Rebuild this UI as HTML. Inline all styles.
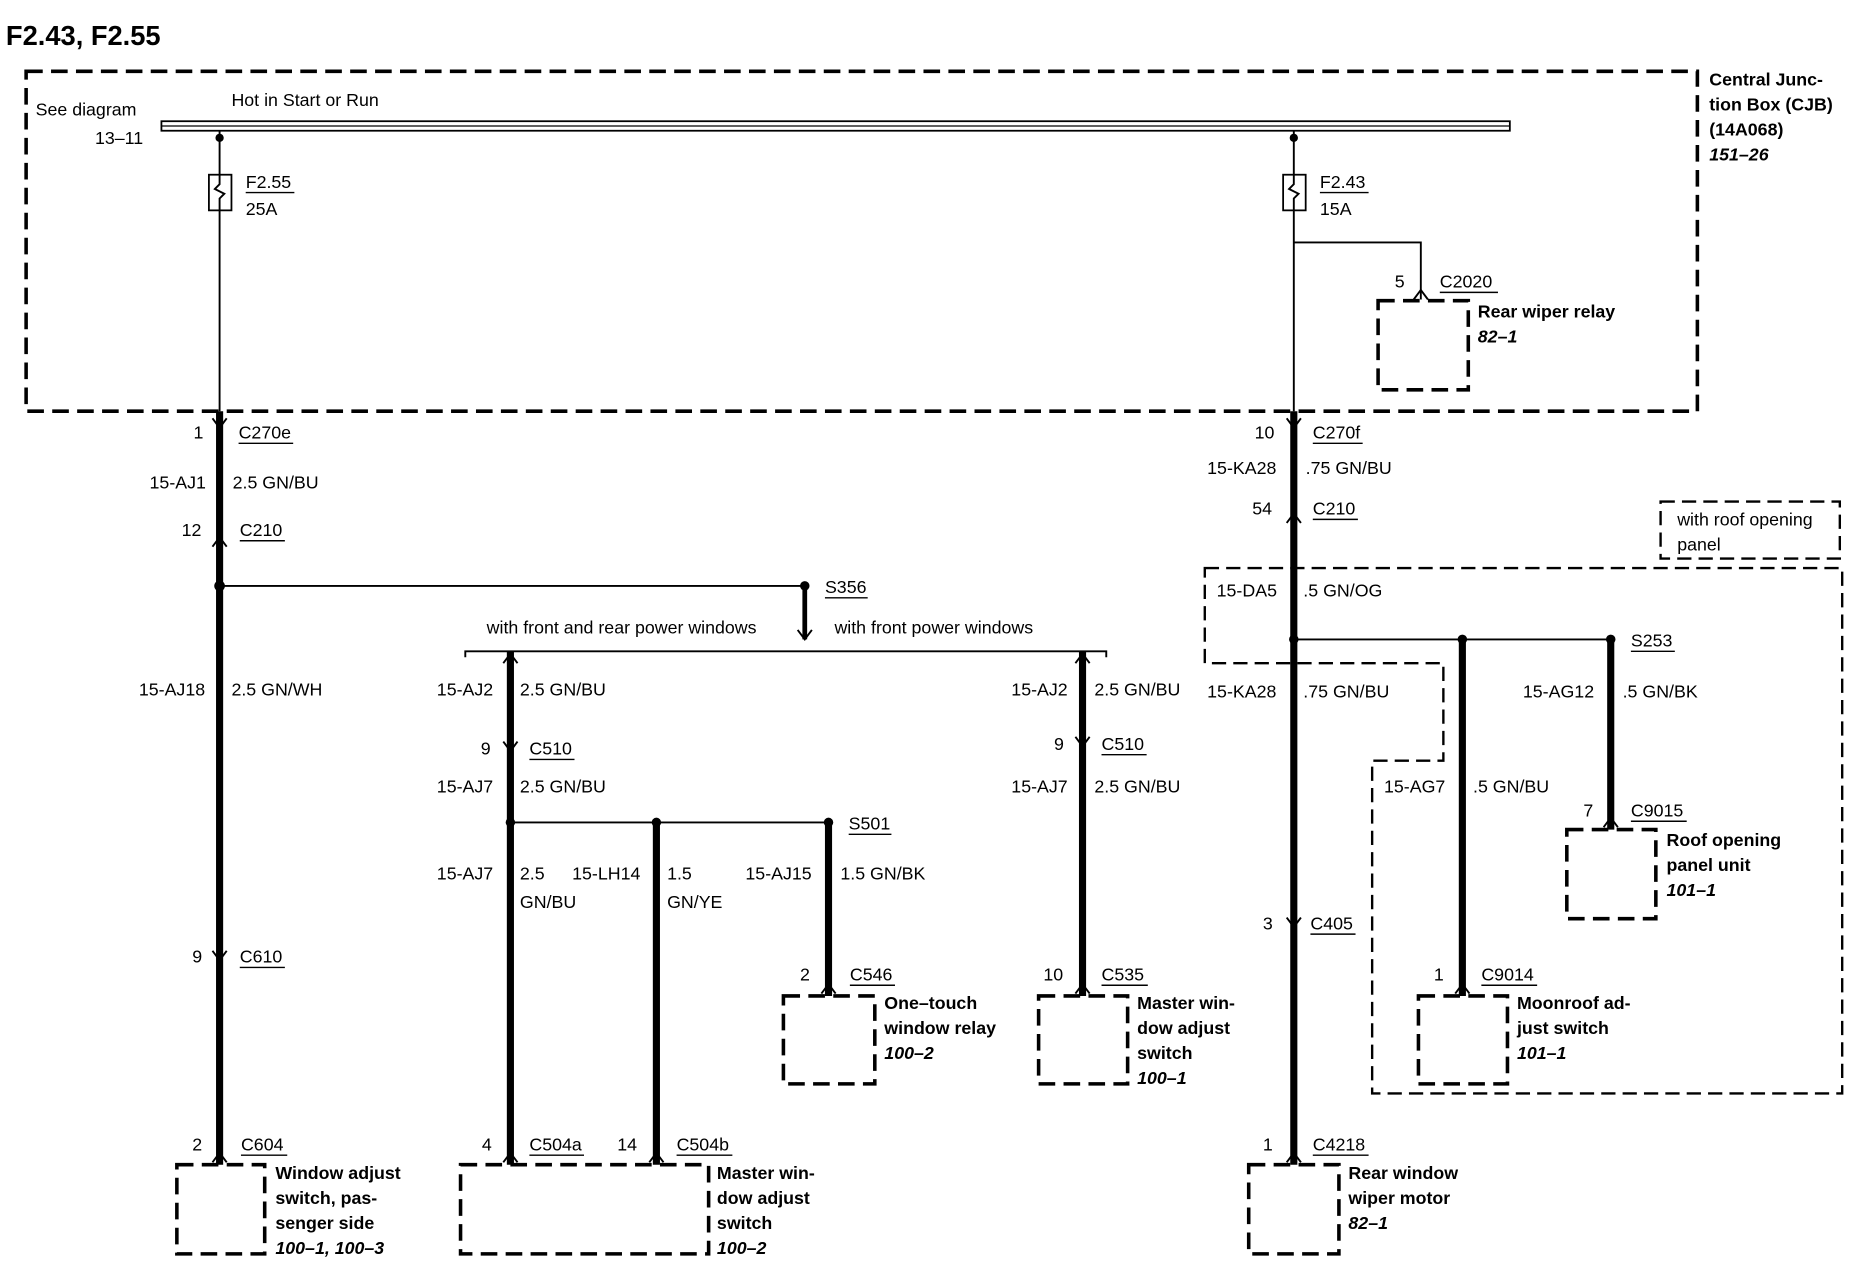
<!DOCTYPE html>
<html><head><meta charset="utf-8"><style>
html,body{margin:0;padding:0;background:#fff;width:1860px;height:1280px;overflow:hidden}
svg{display:block}
text{font-family:"Liberation Sans",Arial,sans-serif;font-size:15px;fill:#000}
.b{font-weight:bold}.i{font-style:italic;font-weight:bold}
.d{fill:none;stroke:#000;stroke-width:3;stroke-dasharray:14,7}
.dt{fill:none;stroke:#000;stroke-width:2;stroke-dasharray:12,6}
.t{stroke:#000;stroke-width:1.6;fill:none}
.k{stroke:#000;stroke-width:6;fill:none}
.u{stroke:#000;stroke-width:1.2}
</style></head><body>
<svg width="1860" height="1280" viewBox="0 0 1567 1077" preserveAspectRatio="none">
<text x="5" y="38" class="b" style="font-size:23px">F2.43, F2.55</text>
<rect x="22" y="60" width="1408" height="286" class="d"/>
<rect x="136" y="102" width="1136" height="8" fill="#fff" stroke="#000" stroke-width="1.5"/>
<line x1="136" y1="106" x2="1272" y2="106" stroke="#000" stroke-width="1"/>
<text x="30" y="97">See diagram</text><text x="80" y="121">13–11</text>
<text x="195" y="89">Hot in Start or Run</text>
<text x="1440" y="72" class="b">Central Junc-</text><text x="1440" y="93" class="b">tion Box (CJB)</text>
<text x="1440" y="114" class="b">(14A068)</text><text x="1440" y="135" class="i">151–26</text>

<line x1="185" y1="110" x2="185" y2="346" class="t"/><circle cx="185" cy="116" r="3.5"/>
<rect x="176" y="147" width="19" height="30" fill="#fff" stroke="#000" stroke-width="1.5"/>
<path d="M185 147 v8 l-4 4 l8 4 l-4 4 v10" class="t"/>
<text x="207" y="158">F2.55</text><line x1="207" y1="162" x2="248" y2="162" class="u"/><text x="207" y="181">25A</text>
<line x1="1090" y1="110" x2="1090" y2="346" class="t"/><circle cx="1090" cy="116" r="3.5"/>
<rect x="1081" y="147" width="19" height="30" fill="#fff" stroke="#000" stroke-width="1.5"/>
<path d="M1090 147 v8 l-4 4 l8 4 l-4 4 v10" class="t"/>
<text x="1112" y="158">F2.43</text><line x1="1112" y1="162" x2="1153" y2="162" class="u"/><text x="1112" y="181">15A</text>
<path d="M1090 204 H1197 V252" class="t"/><path d="M1191 252 l6 -8 l6 8" class="t"/>
<text x="1175" y="242">5</text><text x="1213" y="242">C2020</text><line x1="1213" y1="246" x2="1262" y2="246" class="u"/>
<rect x="1161" y="253" width="76" height="75" class="d"/>
<text x="1245" y="267" class="b">Rear wiper relay</text><text x="1245" y="288" class="i">82–1</text>

<line x1="185" y1="346" x2="185" y2="980" class="k"/>
<circle cx="185" cy="493" r="4.5"/>
<text x="163" y="369">1</text><text x="201" y="369">C270e</text><line x1="201" y1="373" x2="247" y2="373" class="u"/>
<text x="126" y="411">15-AJ1</text><text x="196" y="411">2.5 GN/BU</text>
<text x="153" y="451">12</text><text x="202" y="451">C210</text><line x1="202" y1="455" x2="240" y2="455" class="u"/>
<text x="117" y="585">15-AJ18</text><text x="195" y="585">2.5 GN/WH</text>
<text x="162" y="810">9</text><text x="202" y="810">C610</text><line x1="202" y1="814" x2="240" y2="814" class="u"/>
<text x="162" y="968">2</text><text x="203" y="968">C604</text><line x1="203" y1="972" x2="242" y2="972" class="u"/>
<rect x="149" y="980" width="74" height="75" class="d"/>
<text x="232" y="992" class="b">Window adjust</text><text x="232" y="1013" class="b">switch, pas-</text>
<text x="232" y="1034" class="b">senger side</text><text x="232" y="1055" class="i">100–1, 100–3</text>

<line x1="185" y1="493" x2="678" y2="493" class="t"/><circle cx="678" cy="493" r="4"/>
<text x="695" y="499">S356</text><line x1="695" y1="503" x2="731" y2="503" class="u"/>
<line x1="678" y1="493" x2="678" y2="538" class="k" style="stroke-width:4"/>
<path d="M392 553 V548 H932 V553" class="t"/>
<text x="410" y="533">with front and rear power windows</text><text x="703" y="533">with front power windows</text>

<line x1="430" y1="548" x2="430" y2="980" class="k"/>
<text x="368" y="585">15-AJ2</text><text x="438" y="585">2.5 GN/BU</text>
<text x="405" y="635">9</text><text x="446" y="635">C510</text><line x1="446" y1="639" x2="484" y2="639" class="u"/>
<text x="368" y="667">15-AJ7</text><text x="438" y="667">2.5 GN/BU</text>
<line x1="430" y1="692" x2="698" y2="692" class="t"/>
<circle cx="430" cy="692" r="4"/><circle cx="553" cy="692" r="4"/><circle cx="698" cy="692" r="4"/>
<text x="715" y="698">S501</text><line x1="715" y1="702" x2="751" y2="702" class="u"/>
<text x="368" y="740">15-AJ7</text><text x="438" y="740">2.5</text><text x="438" y="764">GN/BU</text>
<line x1="553" y1="692" x2="553" y2="980" class="k"/>
<text x="482" y="740">15-LH14</text><text x="562" y="740">1.5</text><text x="562" y="764">GN/YE</text>
<line x1="698" y1="692" x2="698" y2="838" class="k"/>
<text x="628" y="740">15-AJ15</text><text x="708" y="740">1.5 GN/BK</text>
<text x="674" y="825">2</text><text x="716" y="825">C546</text><line x1="716" y1="829" x2="754" y2="829" class="u"/>
<rect x="660" y="838" width="77" height="74" class="d"/>
<text x="745" y="849" class="b">One–touch</text><text x="745" y="870" class="b">window relay</text><text x="745" y="891" class="i">100–2</text>
<text x="406" y="968">4</text><text x="446" y="968">C504a</text><line x1="446" y1="972" x2="492" y2="972" class="u"/>
<text x="520" y="968">14</text><text x="570" y="968">C504b</text><line x1="570" y1="972" x2="617" y2="972" class="u"/>
<rect x="388" y="980" width="209" height="75" class="d"/>
<text x="604" y="992" class="b">Master win-</text><text x="604" y="1013" class="b">dow adjust</text><text x="604" y="1034" class="b">switch</text><text x="604" y="1055" class="i">100–2</text>

<line x1="912" y1="548" x2="912" y2="838" class="k"/>
<text x="852" y="585">15-AJ2</text><text x="922" y="585">2.5 GN/BU</text>
<text x="888" y="631">9</text><text x="928" y="631">C510</text><line x1="928" y1="635" x2="966" y2="635" class="u"/>
<text x="852" y="667">15-AJ7</text><text x="922" y="667">2.5 GN/BU</text>
<text x="879" y="825">10</text><text x="928" y="825">C535</text><line x1="928" y1="829" x2="967" y2="829" class="u"/>
<rect x="875" y="838" width="75" height="74" class="d"/>
<text x="958" y="849" class="b">Master win-</text><text x="958" y="870" class="b">dow adjust</text><text x="958" y="891" class="b">switch</text><text x="958" y="912" class="i">100–1</text>

<line x1="1090" y1="346" x2="1090" y2="980" class="k"/>
<text x="1057" y="369">10</text><text x="1106" y="369">C270f</text><line x1="1106" y1="373" x2="1148" y2="373" class="u"/>
<text x="1017" y="399">15-KA28</text><text x="1100" y="399">.75 GN/BU</text>
<text x="1055" y="433">54</text><text x="1106" y="433">C210</text><line x1="1106" y1="437" x2="1144" y2="437" class="u"/>
<rect x="1399" y="422" width="151" height="48" class="dt"/>
<text x="1413" y="442">with roof opening</text><text x="1413" y="463">panel</text>
<path d="M1015 478 H1552 V920 H1156 V640 H1216 V558 H1015 Z" class="dt"/>
<text x="1025" y="502">15-DA5</text><text x="1098" y="502">.5 GN/OG</text>
<line x1="1090" y1="538" x2="1357" y2="538" class="t"/>
<circle cx="1090" cy="538" r="4"/><circle cx="1232" cy="538" r="4"/><circle cx="1357" cy="538" r="4"/>
<text x="1374" y="544">S253</text><line x1="1374" y1="548" x2="1411" y2="548" class="u"/>
<text x="1017" y="587">15-KA28</text><text x="1098" y="587">.75 GN/BU</text>
<text x="1064" y="782">3</text><text x="1104" y="782">C405</text><line x1="1104" y1="786" x2="1142" y2="786" class="u"/>
<text x="1064" y="968">1</text><text x="1106" y="968">C4218</text><line x1="1106" y1="972" x2="1153" y2="972" class="u"/>
<rect x="1052" y="980" width="76" height="75" class="d"/>
<text x="1136" y="992" class="b">Rear window</text><text x="1136" y="1013" class="b">wiper motor</text><text x="1136" y="1034" class="i">82–1</text>
<line x1="1232" y1="538" x2="1232" y2="838" class="k"/>
<text x="1166" y="667">15-AG7</text><text x="1241" y="667">.5 GN/BU</text>
<text x="1208" y="825">1</text><text x="1248" y="825">C9014</text><line x1="1248" y1="829" x2="1295" y2="829" class="u"/>
<rect x="1195" y="838" width="75" height="74" class="d"/>
<text x="1278" y="849" class="b">Moonroof ad-</text><text x="1278" y="870" class="b">just switch</text><text x="1278" y="891" class="i">101–1</text>
<line x1="1357" y1="538" x2="1357" y2="698" class="k"/>
<text x="1283" y="587">15-AG12</text><text x="1367" y="587">.5 GN/BK</text>
<text x="1334" y="687">7</text><text x="1374" y="687">C9015</text><line x1="1374" y1="691" x2="1421" y2="691" class="u"/>
<rect x="1320" y="698" width="75" height="75" class="d"/>
<text x="1404" y="712" class="b">Roof opening</text><text x="1404" y="733" class="b">panel unit</text><text x="1404" y="754" class="i">101–1</text>

<g class="t" stroke-width="2">
<path d="M179 352 l6 8 l6 -8"/><path d="M179 460 l6 -8 l6 8"/><path d="M179 800 l6 8 l6 -8"/><path d="M179 978 l6 -8 l6 8"/>
<path d="M424 558 l6 -8 l6 8"/><path d="M424 624 l6 8 l6 -8"/><path d="M424 978 l6 -8 l6 8"/><path d="M547 978 l6 -8 l6 8"/>
<path d="M692 836 l6 -8 l6 8"/><path d="M906 558 l6 -8 l6 8"/><path d="M906 620 l6 8 l6 -8"/><path d="M906 836 l6 -8 l6 8"/>
<path d="M1084 352 l6 8 l6 -8"/><path d="M1084 440 l6 -8 l6 8"/><path d="M1084 772 l6 8 l6 -8"/><path d="M1084 978 l6 -8 l6 8"/>
<path d="M1226 836 l6 -8 l6 8"/><path d="M1351 696 l6 -8 l6 8"/><path d="M672 530 l6 8 l6 -8"/>
</g>
</svg>
</body></html>
